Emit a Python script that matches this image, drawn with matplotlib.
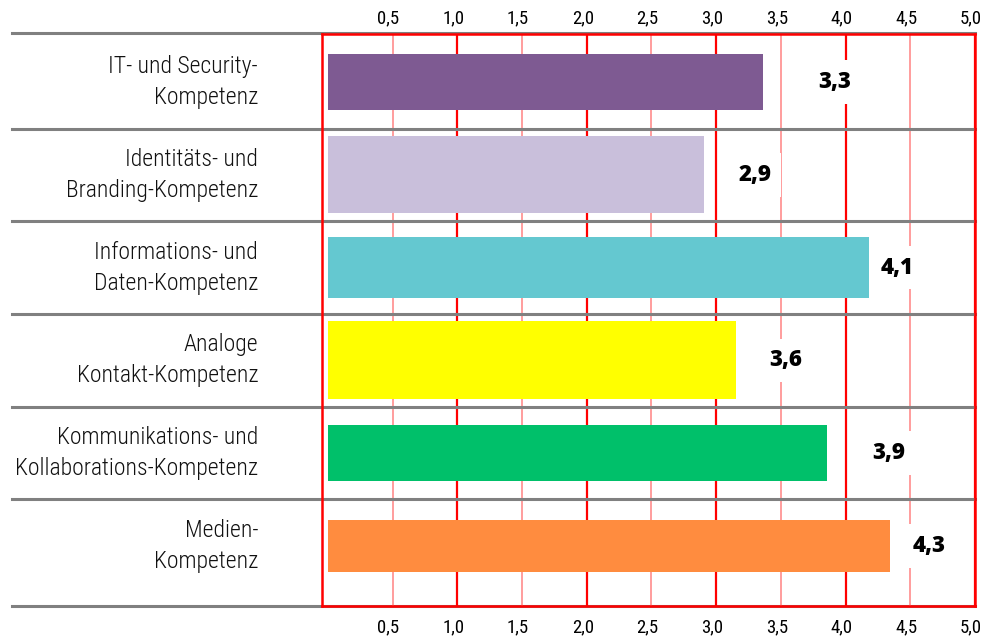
import numpy as np
import matplotlib
matplotlib.use("Agg")
import matplotlib.pyplot as plt
import matplotlib.transforms as mtransforms

# data
categories = ["IT- und Security-\nKompetenz",
              "Identitäts- und\nBranding-Kompetenz",
              "Informations- und\nDaten-Kompetenz",
              "Analoge\nKontakt-Kompetenz",
              "Kommunikations- und\nKollaborations-Kompetenz",
              "Medien-\nKompetenz"]
bar_lengths = [3.36, 2.91, 4.18, 3.15, 3.86, 4.34]   # as drawn
value_labels = ["3,3", "2,9", "4,1", "3,6", "3,9", "4,3"]  # as printed
ticks = [0.5, 1.0, 1.5, 2.0, 2.5, 3.0, 3.5, 4.0, 4.5, 5.0]
tick_labels = ["0,5", "1,0", "1,5", "2,0", "2,5", "3,0", "3,5", "4,0", "4,5", "5,0"]

# styling
colors = ["#7E5A92", "#C9BFDB", "#64C8D0", "#FFFF00", "#00C06A", "#FF8C3F"]
bar_heights = [0.61, 0.83, 0.65, 0.84, 0.60, 0.56]
label_gap = [0.43, 0.26, 0.09, 0.26, 0.35, 0.18]
cat_font = ["Roboto Condensed", "DejaVu Sans"]

fig = plt.figure(figsize=(9.82, 6.37), dpi=100)
ax = fig.add_axes([322 / 982, 1 - 606 / 637, 653 / 982, 572 / 637])

y = np.arange(len(categories))
ax.barh(y, bar_lengths, height=bar_heights, color=colors, zorder=3)

ax.set_xlim(-0.045, 5.0)
ax.set_ylim(5.65, -0.52)

# red grid
for t in ticks:
    if t == int(t):
        ax.axvline(t, color="#FF0000", lw=1.6, zorder=1)
    else:
        ax.axvline(t, color="#FF8C8C", lw=1.2, zorder=1)

for s in ax.spines.values():
    s.set_color("#FF0000")
    s.set_linewidth(1.8)

# gray row separators reaching out to the labels
tr = ax.get_yaxis_transform()
for b in list(y[:-1] + 0.5):
    ax.plot([-0.475, 1.0], [b, b], color="#808080", lw=2.2, transform=tr,
            clip_on=False, zorder=2)
ax.plot([-0.475, 1.0], [-0.535, -0.535], color="#808080", lw=2.2, transform=tr,
        clip_on=False, zorder=0)
ax.plot([-0.475, 1.0], [5.65, 5.65], color="#808080", lw=2.2, transform=tr,
        clip_on=False, zorder=0)

shift = mtransforms.ScaledTranslation(-4 / 100, 0, fig.dpi_scale_trans)

# bottom tick labels
ax.set_xticks(ticks)
ax.set_xticklabels(tick_labels, family=cat_font, fontsize=13.5)
ax.tick_params(axis="x", length=0, pad=9)
ax.set_yticks([])
for lab in ax.xaxis.get_majorticklabels():
    lab.set_transform(lab.get_transform() + shift)

# top tick labels
sec = ax.secondary_xaxis("top")
sec.set_xticks(ticks)
sec.set_xticklabels(tick_labels, family=cat_font, fontsize=13.5)
sec.tick_params(axis="x", length=0, pad=5)
for s in sec.spines.values():
    s.set_visible(False)
for lab in sec.xaxis.get_majorticklabels():
    lab.set_transform(lab.get_transform() + shift)

for i, name in enumerate(categories):
    ax.text(-0.098, i, name, transform=tr, ha="right", va="center",
            family=cat_font, fontweight=300, fontsize=17, linespacing=1.45,
            color="#111111")

for i, (v, lab) in enumerate(zip(bar_lengths, value_labels)):
    ax.text(v + label_gap[i], i, lab, ha="left", va="center",
            family=["Open Sans", "DejaVu Sans"], fontweight=800, fontsize=16,
            bbox=dict(facecolor="white", edgecolor="none", pad=7), zorder=4)

fig.savefig("out.png", dpi=100)
